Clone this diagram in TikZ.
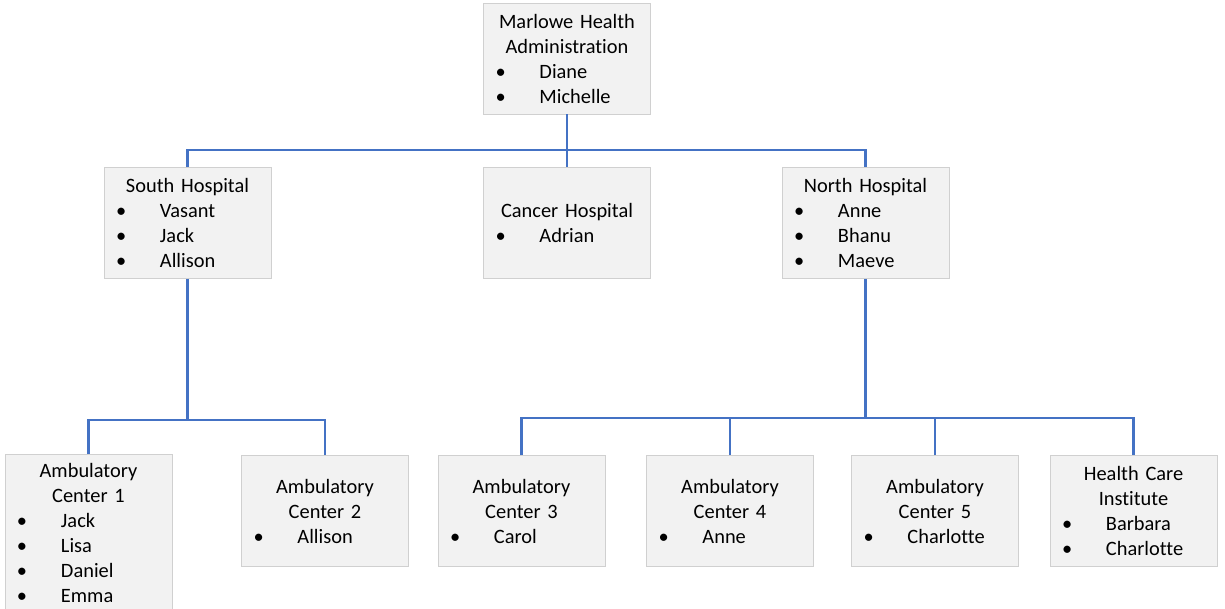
\documentclass[tikz,border=0pt]{standalone}
\usepackage{fontspec}
\setmainfont{Carlito}[Ligatures=CommonOff]
\definecolor{linkblue}{HTML}{4472C4}
\definecolor{boxfill}{HTML}{F2F2F2}
\definecolor{boxline}{HTML}{D0D0D0}
\newcommand{\boxtitle}[1]{\makebox[167pt][c]{#1}}
\newcommand{\boxitem}[1]{\hspace*{12pt}\makebox[44pt][l]{\textbullet}#1}
\begin{document}
\begin{tikzpicture}[x=1pt,y=-1pt,
    unit/.style={draw=boxline,fill=boxfill,line width=0.8pt,text width=167pt,
        minimum height=111pt,inner xsep=0pt,inner ysep=2pt,align=left,
        font=\fontsize{20.4}{25}\selectfont},
    link/.style={draw=linkblue,line width=2.2pt}]
    \useasboundingbox (0,0) rectangle (1225,608);
    % top level
    \node[unit] (admin) at (567,58.5) {\boxtitle{Marlowe Health}\\\boxtitle{Administration}\\\boxitem{Diane}\\\boxitem{Michelle}};
    % hospitals
    \node[unit] (south) at (187.5,223) {\boxtitle{South Hospital}\\\boxitem{Vasant}\\\boxitem{Jack}\\\boxitem{Allison}};
    \node[unit] (cancer) at (567,223) {\boxtitle{Cancer Hospital}\\\boxitem{Adrian}};
    \node[unit] (north) at (865.5,223) {\boxtitle{North Hospital}\\\boxitem{Anne}\\\boxitem{Bhanu}\\\boxitem{Maeve}};
    % centres
    \node[unit,minimum height=156pt] (amb1) at (88.5,532.5) {\boxtitle{Ambulatory}\\\boxtitle{Center 1}\\\boxitem{Jack}\\\boxitem{Lisa}\\\boxitem{Daniel}\\\boxitem{Emma}};
    \node[unit] (amb2) at (325,511) {\boxtitle{Ambulatory}\\\boxtitle{Center 2}\\\boxitem{Allison}};
    \node[unit] (amb3) at (521.5,511) {\boxtitle{Ambulatory}\\\boxtitle{Center 3}\\\boxitem{Carol}};
    \node[unit] (amb4) at (730,511) {\boxtitle{Ambulatory}\\\boxtitle{Center 4}\\\boxitem{Anne}};
    \node[unit] (amb5) at (935,511) {\boxtitle{Ambulatory}\\\boxtitle{Center 5}\\\boxitem{Charlotte}};
    \node[unit] (hci) at (1133.5,511) {\boxtitle{Health Care}\\\boxtitle{Institute}\\\boxitem{Barbara}\\\boxitem{Charlotte}};
    % connectors
    \coordinate (hub) at (567,150);
    \coordinate (shub) at (187.5,420);
    \coordinate (nhub) at (865.5,418);
    \draw[link] (admin) -- (cancer);
    \draw[link] (south.north) |- (hub) -| (north.north);
    \draw[link] (south) -- (shub);
    \draw[link] (amb1.north) |- (shub) -| (amb2.north);
    \draw[link] (north) -- (nhub);
    \draw[link] (amb3.north) |- (nhub) -| (hci.north);
    \draw[link] (amb4.north) -- (amb4.north |- nhub);
    \draw[link] (amb5.north) -- (amb5.north |- nhub);
\end{tikzpicture}
\end{document}
